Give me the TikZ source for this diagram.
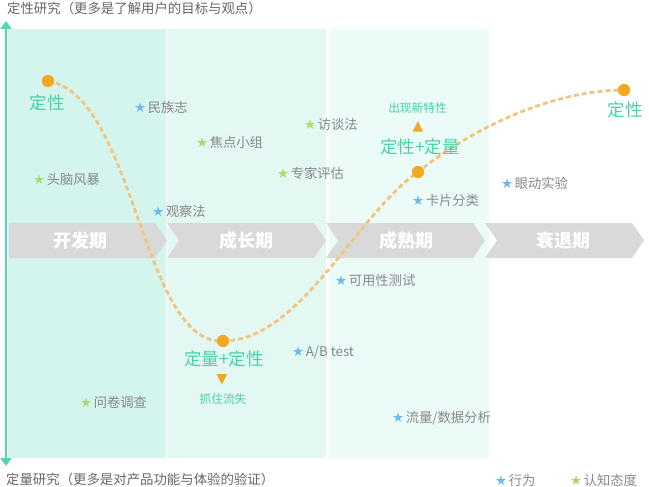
\documentclass[tikz,border=0pt]{standalone}
\usepackage{fontspec}
\setmainfont{Noto Sans CJK SC}
\newfontfamily\symfont{DejaVu Sans}
\usetikzlibrary{arrows.meta}
\definecolor{teal}{HTML}{45D3A8}
\definecolor{axisc}{HTML}{52D6B3}
\definecolor{pone}{HTML}{D4F5EE}
\definecolor{ptwo}{HTML}{E3F8F3}
\definecolor{pthree}{HTML}{EBFBF8}
\definecolor{chev}{HTML}{D9D9D9}
\definecolor{lblgray}{HTML}{888888}
\definecolor{darkgray}{HTML}{666666}
\definecolor{bstar}{HTML}{6DB9EF}
\definecolor{gstar}{HTML}{A8DC6E}
\definecolor{dotc}{HTML}{F5A623}
\definecolor{dashc}{HTML}{F2C47E}
\newcommand{\bst}{{\symfont\fontsize{13.5}{13.5}\selectfont\color{bstar}★}\hspace{1.5pt}}
\newcommand{\gst}{{\symfont\fontsize{13.5}{13.5}\selectfont\color{gstar}★}\hspace{1.5pt}}
\begin{document}
\begin{tikzpicture}[x=1pt,y=-1pt,
  chevron/.style={fill=chev,draw=none},
  phase/.style={text=white,font=\fontsize{18}{18}\selectfont\bfseries,inner sep=0pt},
  item/.style={anchor=west,inner sep=0pt,text=lblgray,font=\fontsize{13.3}{13.3}\selectfont},
  big/.style={text=teal,inner sep=0pt,font=\fontsize{17.5}{17.5}\selectfont},
  small/.style={text=teal,inner sep=0pt,font=\fontsize{11.7}{11.7}\selectfont},
  tri/.style={text=dotc,inner sep=0pt,font=\symfont\fontsize{14}{14}\selectfont},
  dot/.style={circle,fill=dotc,inner sep=0pt,minimum size=12pt},
  curve/.style={dashc,line width=2.8pt,dash pattern=on 5pt off 3pt},
  axisline/.style={axisc,line width=2.5pt,{Triangle[width=11pt,length=8pt]}-{Triangle[width=11pt,length=8pt]}},
  axislbl/.style={anchor=west,inner sep=0pt,text=darkgray,font=\fontsize{13.4}{13.4}\selectfont}
]
\useasboundingbox (0,0) rectangle (649,487);
% panels
\fill[pone] (8,29) rectangle (166,458);
\fill[ptwo] (167,29) rectangle (326,458);
\fill[pthree] (329,29) rectangle (489,458);
% axis
\coordinate (axtop) at (6,21);
\coordinate (axbot) at (6,466);
\draw[axisline] (axtop) -- (axbot);
\node[axislbl] (toplbl) at (7,8) {定性研究（更多是了解用户的目标与观点）};
\node[axislbl] (botlbl) at (6,479) {定量研究（更多是对产品功能与体验的验证）};
% chevrons
\fill[chevron] (9,223) -- (155,223) -- (167,240.5) -- (155,258) -- (9,258) -- cycle;
\fill[chevron] (167,223) -- (314,223) -- (326,240.5) -- (314,258) -- (167,258) -- (179,240.5) -- cycle;
\fill[chevron] (326,223) -- (473,223) -- (485,240.5) -- (473,258) -- (326,258) -- (338,240.5) -- cycle;
\fill[chevron] (485,223) -- (632,223) -- (644,240.5) -- (632,258) -- (485,258) -- (497,240.5) -- cycle;
\node[phase] (ph1) at (80,240.5) {开发期};
\node[phase] (ph2) at (246,240.5) {成长期};
\node[phase] (ph3) at (406,240.5) {成熟期};
\node[phase] (ph4) at (563,240.5) {衰退期};
% curve
\node[dot] (d1) at (48,81) {};
\node[dot] (d2) at (223,341) {};
\node[dot] (d3) at (418,172) {};
\node[dot] (d4) at (624,90) {};
\draw[curve] (d1.center) .. controls (135,95) and (142,345) .. (d2.center)
  .. controls (300,341) and (356,215) .. (d3.center)
  .. controls (480,122) and (560,90) .. (d4.center);
\node[dot] at (d1) {};
\node[dot] at (d2) {};
\node[dot] at (d3) {};
\node[dot] at (d4) {};
% teal labels
\node[big] (q1) at (47.5,103) {定性};
\node[big] (q2) at (224,359) {定量+定性};
\node[big] (q3) at (420,147) {定性+定量};
\node[big] (q4) at (625,110) {定性};
\node[tri] (t1) at (222,380) {▼};
\node[small] (s1) at (223,399) {抓住流失};
\node[tri] (t2) at (418,127) {▲};
\node[small] (s2) at (417.5,108) {出现新特性};
% items
\node[item] (i1) at (134,107) {\bst 民族志};
\node[item] (i2) at (196,142) {\gst 焦点小组};
\node[item] (i3) at (304,124) {\gst 访谈法};
\node[item] (i4) at (33,179) {\gst 头脑风暴};
\node[item] (i5) at (277,173) {\gst 专家评估};
\node[item] (i6) at (152,211) {\bst 观察法};
\node[item] (i7) at (412,200) {\bst 卡片分类};
\node[item] (i8) at (501,183) {\bst 眼动实验};
\node[item] (i9) at (335,280) {\bst 可用性测试};
\node[item] (i10) at (292,352) {\bst A/B test};
\node[item] (i11) at (80,402) {\gst 问卷调查};
\node[item] (i12) at (392,418) {\bst 流量/数据分析};
% legend
\node[item] (l1) at (495,480) {\bst 行为};
\node[item] (l2) at (570,480) {\gst 认知态度};
\end{tikzpicture}
\end{document}
